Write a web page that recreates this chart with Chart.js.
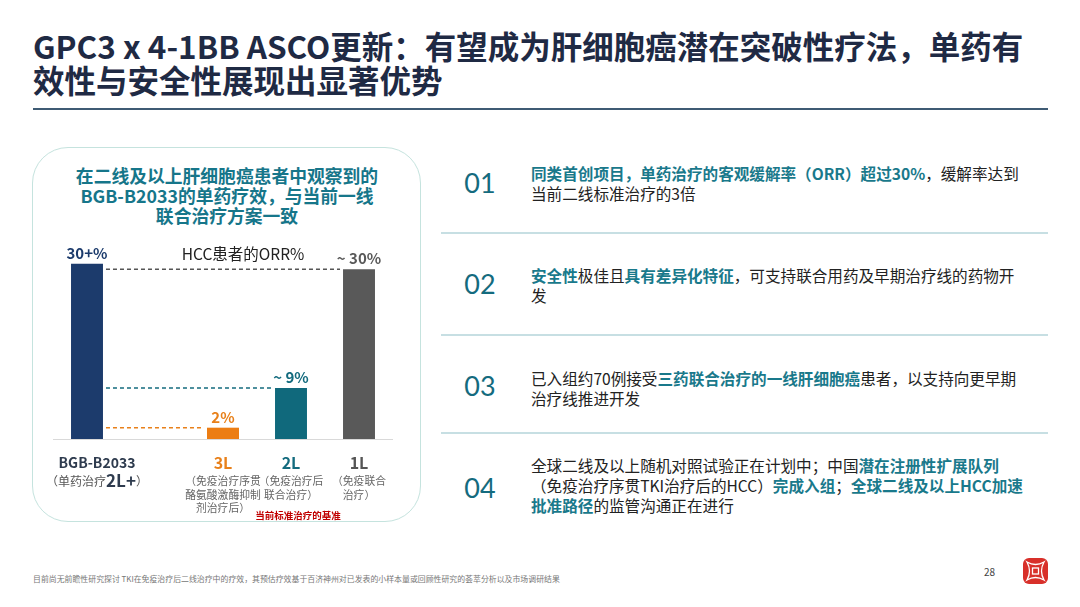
<!DOCTYPE html>
<html>
<head>
<meta charset="utf-8">
<script src="https://cdn.jsdelivr.net/npm/chart.js@4.4.1/dist/chart.umd.min.js"></script>
<style>
  html, body { margin: 0; padding: 0; background: #fff; }
  body { width: 1080px; height: 607px; position: relative; overflow: hidden; font-family: 'Noto Sans CJK SC', 'Noto Sans', sans-serif; }
  .abs { position: absolute; }
  .title { left: 33px; top: 28px; font-size: 31.5px; font-weight: 700; color: #1f2a44; line-height: 34px; white-space: nowrap; }
  .title div { height: 34px; }
  .rule { left: 33px; top: 108px; width: 1015px; height: 2px; background: #3f5b74; }
  .panel { left: 32px; top: 147px; width: 387px; height: 373px; border: 1.5px solid #c5e3de; border-radius: 36px; }
  .ptitle { left: 32px; top: 165px; width: 390px; text-align: center; font-size: 17.8px; font-weight: 700; color: #16768a; line-height: 20px; }
  .ptitle div { height: 20px; white-space: nowrap; }
  .hcc { left: 178px; top: 242px; width: 130px; text-align: center; font-size: 15.5px; color: #222; white-space: nowrap; }
  .base { left: 248px; top: 508px; width: 100px; text-align: center; font-size: 9.5px; font-weight: 700; color: #c00000; white-space: nowrap; }
  #chartBox { left: 32px; top: 230px; width: 390px; height: 300px; }
  .num { left: 455px; width: 50px; text-align: center; font-family: 'Lato', sans-serif; font-size: 27px; color: #146b7e; line-height: 30px; }
  .txt { left: 531px; font-size: 15.6px; color: #222; line-height: 20px; white-space: nowrap; }
  .txt b { color: #19798b; font-weight: 700; }
  .sep { left: 441px; width: 607px; height: 1.5px; background: #c7dfe3; }
  .foot { left: 33px; top: 573px; font-size: 7.9px; color: #777; white-space: nowrap; }
  .page { left: 984px; top: 564px; font-size: 10px; color: #444; }
  .logo { left: 1023px; top: 558px; width: 25px; height: 26px; background: #d8302a; border-radius: 6px; }
</style>
</head>
<body>
<div class="abs title"><div>GPC3 x 4-1BB ASCO更新：有望成为肝细胞癌潜在突破性疗法，单药有</div><div>效性与安全性展现出显著优势</div></div>
<div class="abs rule"></div>

<div class="abs panel"></div>
<div class="abs ptitle"><div>在二线及以上肝细胞癌患者中观察到的</div><div>BGB-B2033的单药疗效，与当前一线</div><div>联合治疗方案一致</div></div>
<div class="abs" id="chartBox"><canvas id="orrChart"></canvas></div>
<div class="abs hcc">HCC患者的ORR%</div>
<div class="abs base">当前标准治疗的基准</div>

<div class="abs num" style="top:168px">01</div>
<div class="abs txt" style="top:163px"><b>同类首创项目，单药治疗的客观缓解率（ORR）超过30%</b>，缓解率达到<br>当前二线标准治疗的3倍</div>
<div class="abs sep" style="top:232px"></div>
<div class="abs num" style="top:269px">02</div>
<div class="abs txt" style="top:265px"><b>安全性</b>极佳且<b>具有差异化特征</b>，可支持联合用药及早期治疗线的药物开<br>发</div>
<div class="abs sep" style="top:334px"></div>
<div class="abs num" style="top:371px">03</div>
<div class="abs txt" style="top:368px">已入组约70例接受<b>三药联合治疗的一线肝细胞癌</b>患者，以支持向更早期<br>治疗线推进开发</div>
<div class="abs sep" style="top:432px"></div>
<div class="abs num" style="top:473px">04</div>
<div class="abs txt" style="top:455px">全球二线及以上随机对照试验正在计划中；中国<b>潜在注册性扩展队列</b><br>（免疫治疗序贯TKI治疗后的HCC）<b>完成入组</b>；<b>全球二线及以上HCC加速</b><br><b>批准路径</b>的监管沟通正在进行</div>

<div class="abs foot">目前尚无前瞻性研究探讨 TKI在免疫治疗后二线治疗中的疗效，其预估疗效基于百济神州对已发表的小样本量或回顾性研究的荟萃分析以及市场调研结果</div>
<div class="abs page">28</div>
<div class="abs logo">
  <svg width="25" height="26" viewBox="0 0 25 26">
    <path d="M4 4 Q12.5 9 21 4 Q16 13 21 22 Q12.5 17 4 22 Q9 13 4 4 Z" fill="none" stroke="#fff" stroke-width="1.3"/>
    <rect x="9.5" y="10" width="6" height="6" fill="none" stroke="#fff" stroke-width="1.3"/>
  </svg>
</div>

<script>
// bar chart data (second slot is an empty spacer)
const categories = ['BGB-B2033', '', '3L', '2L', '1L'];
const orrValues = [31, null, 2, 9, 30];
const valueLabels = ['30+%', '', '2%', '~ 9%', '~ 30%'];
const subLabels = [
  ['（单药治疗|2L+|）'],
  [],
  ['（免疫治疗序贯', '酪氨酸激酶抑制', '剂治疗后）'],
  ['（免疫治疗后', '联合治疗）'],
  ['（免疫联合', '治疗）']
];
// dashed guides run from the BGB-B2033 bar to these bars
const guideTargets = [4, 3, 2];

const barColors = ['#1c3b6c', '#ffffff', '#ec7d13', '#10697c', '#595959'];
const labelColors = ['#1c3b6c', '#000', '#e8801a', '#136b7e', '#595959'];
const catColors = ['#2e3b4e', '#000', '#e8801a', '#136b7e', '#555555'];
const guideColors = { 4: '#555555', 3: '#136b7e', 2: '#e8801a' };
const FONT = "'Noto Sans CJK SC', sans-serif";

const annotate = {
  id: 'annotate',
  afterDatasetsDraw(chart) {
    const { ctx, chartArea, scales } = chart;
    const y = scales.y;
    const meta = chart.getDatasetMeta(0);
    ctx.save();

    // baseline
    const y0 = y.getPixelForValue(0);
    ctx.strokeStyle = '#d9d9d9';
    ctx.lineWidth = 1;
    ctx.beginPath();
    ctx.moveTo(chartArea.left, y0 + 0.5);
    ctx.lineTo(chartArea.right, y0 + 0.5);
    ctx.stroke();

    // dashed guides
    const src = meta.data[0];
    const srcRight = src.x + src.width / 2;
    guideTargets.forEach(i => {
      const bar = meta.data[i];
      const gy = y.getPixelForValue(orrValues[i]);
      ctx.strokeStyle = guideColors[i];
      ctx.lineWidth = 1.5;
      ctx.setLineDash([4, 3]);
      ctx.beginPath();
      ctx.moveTo(srcRight + 3, gy);
      ctx.lineTo(bar.x - bar.width / 2 - 3, gy);
      ctx.stroke();
    });
    ctx.setLineDash([]);

    // value labels above bars
    ctx.textAlign = 'center';
    ctx.textBaseline = 'bottom';
    ctx.font = `700 15px ${FONT}`;
    meta.data.forEach((bar, i) => {
      if (orrValues[i] == null) return;
      ctx.fillStyle = labelColors[i];
      ctx.fillText(valueLabels[i], bar.x, bar.y - 3);
    });

    // category labels and notes below axis
    meta.data.forEach((bar, i) => {
      if (!categories[i]) return;
      const cx = bar.x + (i === 0 ? 10 : 0);
      ctx.textBaseline = 'middle';
      ctx.textAlign = 'center';
      ctx.fillStyle = catColors[i];
      ctx.font = i === 0 ? `700 14px ${FONT}` : `700 16px ${FONT}`;
      ctx.fillText(categories[i], cx, y0 + 24);
      subLabels[i].forEach((line, k) => {
        const ly = y0 + 42 + k * 13.5;
        if (line.includes('|')) {
          const parts = line.split('|');
          const fonts = [`400 12px ${FONT}`, `700 17px ${FONT}`, `400 12px ${FONT}`];
          const cols = ['#555', '#2e3b4e', '#555'];
          let w = 0;
          parts.forEach((p, j) => { ctx.font = fonts[j]; w += ctx.measureText(p).width; });
          let x = cx - w / 2;
          ctx.textAlign = 'left';
          parts.forEach((p, j) => {
            ctx.font = fonts[j];
            ctx.fillStyle = cols[j];
            ctx.fillText(p, x, ly);
            x += ctx.measureText(p).width;
          });
        } else {
          ctx.textAlign = 'center';
          ctx.font = `400 10.8px ${FONT}`;
          ctx.fillStyle = '#666';
          ctx.fillText(line, cx, ly);
        }
      });
    });
    ctx.restore();
  }
};

new Chart(document.getElementById('orrChart'), {
  type: 'bar',
  data: {
    labels: categories,
    datasets: [{
      data: orrValues,
      backgroundColor: barColors,
      borderWidth: 0,
      barPercentage: 0.47,
      categoryPercentage: 1
    }]
  },
  options: {
    responsive: true, maintainAspectRatio: false,
    animation: false,
    layout: { padding: { left: 21, right: 29, top: 11, bottom: 91 } },
    scales: {
      x: { display: false },
      y: { display: false, min: 0, max: 35 }
    },
    plugins: { legend: { display: false }, tooltip: { enabled: false } }
  },
  plugins: [annotate]
});
</script>
</body>
</html>
